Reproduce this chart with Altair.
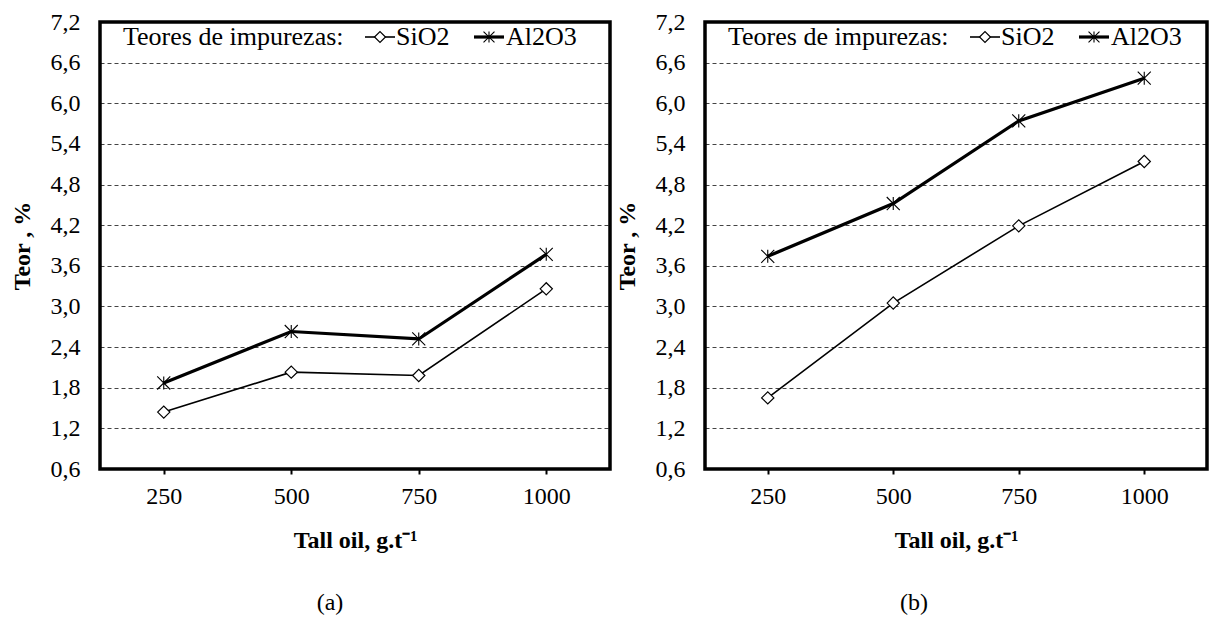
import altair as alt
import pandas as pd

# Tall oil dosage (g/t) and impurity contents (%) for the two test series
doses = [250, 500, 750, 1000]
sio2_a = [1.44, 2.03, 1.98, 3.26]
al2o3_a = [1.87, 2.63, 2.52, 3.77]
sio2_b = [1.65, 3.05, 4.19, 5.14]
al2o3_b = [3.74, 4.52, 5.74, 6.37]
y_ticks = [0.6, 1.2, 1.8, 2.4, 3.0, 3.6, 4.2, 4.8, 5.4, 6.0, 6.6, 7.2]

FONT = "Liberation Serif"
FS = 24
KEY_FS = 26
H = 447
STAR = "M-1,-1L1,1M-1,1L1,-1M0,-1L0,1"


def one_row():
    return pd.DataFrame({"k": [0]})


def panel(sio2, al2o3, caption, width, cap_x):
    df = pd.DataFrame({"dose": doses * 2,
                       "teor": sio2 + al2o3,
                       "serie": ["SiO2"] * 4 + ["Al2O3"] * 4})
    x = alt.X("dose:O",
              scale=alt.Scale(type="point", padding=0.5),
              axis=alt.Axis(title="Tall oil, g.t\u207b\u00b9", labelAngle=0,
                            labelFont=FONT, labelFontSize=FS, labelColor="black",
                            titleFont=FONT, titleFontSize=FS, titleFontWeight="bold",
                            titleColor="black", labelPadding=10, titlePadding=20,
                            tickSize=5, tickWidth=2, tickColor="black",
                            domain=False, grid=False))
    y = alt.Y("teor:Q",
              scale=alt.Scale(domain=[0.6, 7.2], nice=False, zero=False),
              axis=alt.Axis(values=y_ticks, title="Teor , %",
                            labelExpr="replace(format(datum.value, '.1f'), '.', ',')",
                            labelFont=FONT, labelFontSize=FS, labelColor="black",
                            titleFont=FONT, titleFontSize=FS, titleFontWeight="bold",
                            titleColor="black", labelPadding=20, titlePadding=16,
                            ticks=False, domain=False, grid=True,
                            gridColor="#444", gridDash=[4, 3], gridWidth=1))
    base = alt.Chart(df).encode(x=x, y=y)

    si = base.transform_filter(alt.datum.serie == "SiO2")
    al = base.transform_filter(alt.datum.serie == "Al2O3")
    si_line = si.mark_line(color="black", strokeWidth=1.6)
    al_line = al.mark_line(color="black", strokeWidth=3.2)
    si_pts = si.mark_point(shape="diamond", size=150, filled=True,
                           fill="white", stroke="black", strokeWidth=1.2, opacity=1)
    al_pts = al.mark_point(shape=STAR, size=170, filled=False,
                           stroke="black", strokeWidth=1.1, opacity=1)

    # heavy frame around the plot area
    frame = alt.Chart(one_row()).mark_rect(
        fill="white", fillOpacity=0, stroke="black", strokeWidth=3.5).encode(
        x=alt.value(0), x2=alt.value(width), y=alt.value(0), y2=alt.value(H))

    # key drawn inside the top of the plot area
    ly = 23
    txt = dict(font=FONT, fontSize=KEY_FS, color="black", align="left",
               baseline="alphabetic")
    key_title = alt.Chart(one_row()).mark_text(**txt).encode(
        x=alt.value(23), y=alt.value(ly), text=alt.value("Teores de impurezas:"))
    key_si_rule = alt.Chart(one_row()).mark_rule(color="black", strokeWidth=1.6).encode(
        x=alt.value(265), x2=alt.value(295), y=alt.value(ly - 8))
    key_si_pt = alt.Chart(one_row()).mark_point(
        shape="diamond", size=120, filled=True, fill="white", stroke="black",
        strokeWidth=1.2, opacity=1).encode(x=alt.value(280), y=alt.value(ly - 8))
    key_si_txt = alt.Chart(one_row()).mark_text(**txt).encode(
        x=alt.value(296), y=alt.value(ly), text=alt.value("SiO2"))
    key_al_rule = alt.Chart(one_row()).mark_rule(color="black", strokeWidth=3.2).encode(
        x=alt.value(374), x2=alt.value(404), y=alt.value(ly - 8))
    key_al_pt = alt.Chart(one_row()).mark_point(
        shape=STAR, size=120, filled=False, stroke="black", strokeWidth=1.1,
        opacity=1).encode(x=alt.value(389), y=alt.value(ly - 8))
    key_al_txt = alt.Chart(one_row()).mark_text(**txt).encode(
        x=alt.value(406), y=alt.value(ly), text=alt.value("Al2O3"))

    cap = alt.Chart(one_row()).mark_text(font=FONT, fontSize=FS, color="black",
                                         align="center", baseline="middle").encode(
        x=alt.value(cap_x), y=alt.value(H + 134), text=alt.value(caption))

    return alt.layer(si_line, al_line, si_pts, al_pts, frame,
                     key_title, key_si_rule, key_si_pt, key_si_txt,
                     key_al_rule, key_al_pt, key_al_txt, cap).properties(
        width=width, height=H)


chart = alt.hconcat(
    panel(sio2_a, al2o3_a, "(a)", 510, 230),
    panel(sio2_b, al2o3_b, "(b)", 502, 209),
    spacing=3,
).properties(
    padding={"left": 10, "top": 10, "right": 0, "bottom": 0},
    background="white",
).configure_view(
    stroke=None,
)

chart.save("out.html", embed_options={"renderer": "svg", "actions": False})
